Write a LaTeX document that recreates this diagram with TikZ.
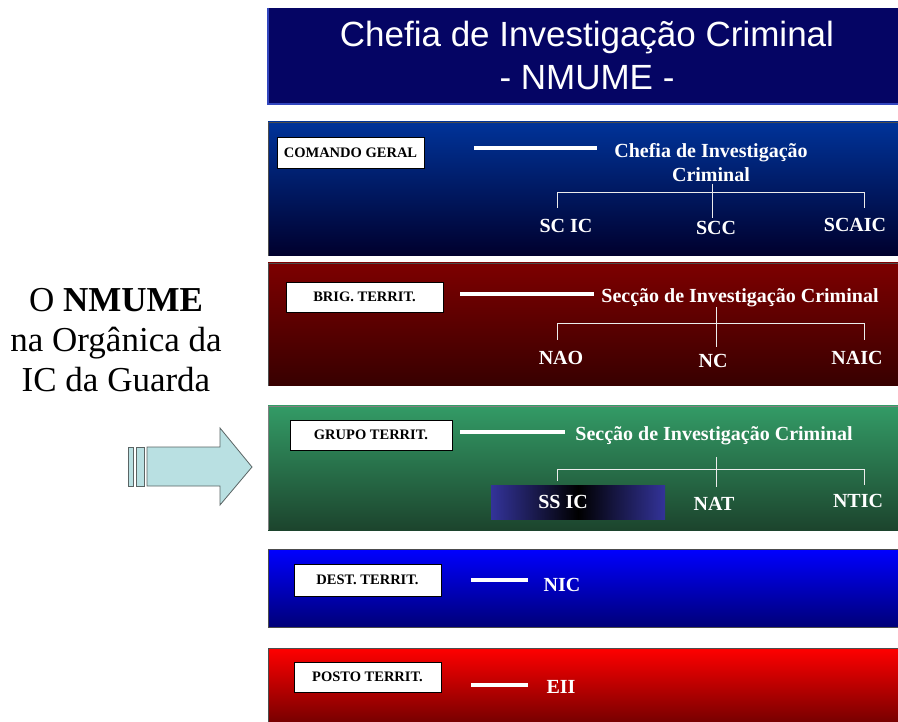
\documentclass[tikz,border=0pt]{standalone}
\usepackage{fontspec}
\setmainfont{Liberation Serif}
\newfontfamily\titlefont{Liberation Sans}
\begin{document}
\begin{tikzpicture}[x=1pt,y=-1pt,
  lblbox/.style={draw=black, fill=white, line width=0.9pt, inner sep=0pt,
    font=\bfseries\fontsize{14.5}{14.5}\selectfont, text=black, align=center},
  hline/.style={draw=white, line width=3.4pt},
  tline/.style={draw=white!85!gray, line width=1pt},
  wtxt/.style={text=white, font=\bfseries\fontsize{20}{24}\selectfont, inner sep=0pt, align=center},
  band/.style={draw=black!70, line width=0.6pt}
]
\useasboundingbox (0,0) rectangle (898,722);
\fill[white] (0,0) rectangle (898,722);

% Title
\fill[fill={rgb,255:red,5;green,5;blue,100}] (268,8) rectangle (898,104);
\draw[draw={rgb,255:red,50;green,70;blue,190}, line width=1.2pt] (268,8) -- (268,104) -- (898,104);
\node[text=white, font=\titlefont\fontsize{35}{43}\selectfont, align=center, inner sep=0pt] (title) at (587,55)
  {Chefia de Investigação Criminal\\- NMUME -};

% Bands
\shade[top color={rgb,255:red,0;green,51;blue,153}, bottom color={rgb,255:red,0;green,0;blue,45}] (268,122) rectangle (898,256);
\draw[band] (268,256) -- (268,122) -- (898,122);
\shade[top color={rgb,255:red,125;green,0;blue,0}, bottom color={rgb,255:red,55;green,0;blue,0}] (268,263) rectangle (898,386);
\draw[band] (268,386) -- (268,263) -- (898,263);
\shade[top color={rgb,255:red,51;green,155;blue,102}, bottom color={rgb,255:red,28;green,68;blue,45}] (268,406) rectangle (898,530);
\draw[band, draw=gray] (268,530) -- (268,406) -- (898,406);
\shade[top color={rgb,255:red,0;green,0;blue,255}, bottom color={rgb,255:red,0;green,0;blue,120}] (268,549) rectangle (898,627);
\draw[band] (898,627) -- (268,627) -- (268,549) -- (898,549);
\shade[top color={rgb,255:red,255;green,0;blue,0}, bottom color={rgb,255:red,120;green,0;blue,0}] (268,648) rectangle (898,722);
\draw[band] (268,722) -- (268,648) -- (898,648);

% Band 1
\node[lblbox, minimum width=147pt, minimum height=31pt] (l1) at (350.5,152.5) {COMANDO GERAL};
\node[wtxt] (p1) at (711,163) {Chefia de Investigação\\Criminal};
\coordinate (h1a) at (474,148); \coordinate (h1b) at (597,148);
\draw[hline] (h1a) -- (h1b);
\node[wtxt] (c11) at (566,226) {SC IC};
\node[wtxt] (c12) at (716,228) {SCC};
\node[wtxt] (c13) at (855,225) {SCAIC};
\coordinate (t1) at (712,184); \coordinate (b1) at (712,218);
\draw[tline] (t1) -- (b1);
\draw[tline] (557,208) -- (557,193) -- (864,193) -- (864,208);

% Band 2
\node[lblbox, minimum width=157pt, minimum height=30pt] (l2) at (364.5,297) {BRIG. TERRIT.};
\node[wtxt] (p2) at (740,298) {Secção de Investigação Criminal};
\coordinate (h2a) at (460,294); \coordinate (h2b) at (594,294);
\draw[hline] (h2a) -- (h2b);
\node[wtxt] (c21) at (561,358) {NAO};
\node[wtxt] (c22) at (713,361) {NC};
\node[wtxt] (c23) at (857,358) {NAIC};
\draw[tline] (716,307) -- (716,347);
\draw[tline] (557,340) -- (557,324) -- (864,324) -- (864,340);

% Band 3
\node[lblbox, minimum width=162pt, minimum height=30pt] (l3) at (371,435) {GRUPO TERRIT.};
\node[wtxt] (p3) at (714,436) {Secção de Investigação Criminal};
\draw[hline] (460,432) -- (565,432);
\shade[left color={rgb,255:red,51;green,51;blue,153}, right color={rgb,255:red,51;green,51;blue,153}, middle color=black] (491,485) rectangle (665,519);
\node[wtxt] (c31) at (563,502) {SS IC};
\node[wtxt] (c32) at (714,504) {NAT};
\node[wtxt] (c33) at (858,501) {NTIC};
\draw[tline] (716,457) -- (716,487);
\draw[tline] (557,481) -- (557,469) -- (864,469) -- (864,485);

% Band 4
\node[lblbox, minimum width=147pt, minimum height=32pt] (l4) at (367.5,580) {DEST. TERRIT.};
\node[wtxt] (c4) at (562,585) {NIC};
\draw[hline] (471,580) -- (528,580);

% Band 5
\node[lblbox, minimum width=147pt, minimum height=30pt] (l5) at (367.5,677) {POSTO TERRIT.};
\node[wtxt] (c5) at (561,687) {EII};
\draw[hline] (471,685) -- (528,685);

% Left text
\node[font=\fontsize{35}{40}\selectfont, align=center, inner sep=0pt] (side) at (116,340)
  {O \textbf{NMUME}\\na Orgânica da\\IC da Guarda};

% Arrow
\begin{scope}[draw={rgb,255:red,90;green,100;blue,100}, fill={rgb,255:red,185;green,224;blue,226}, line width=0.8pt]
\filldraw (128,447) rectangle (133,486);
\filldraw (136,447) rectangle (144,486);
\filldraw (147,447) -- (220,447) -- (220,428) -- (252,467) -- (220,505) -- (220,486) -- (147,486) -- cycle;
\end{scope}
\end{tikzpicture}
\end{document}
